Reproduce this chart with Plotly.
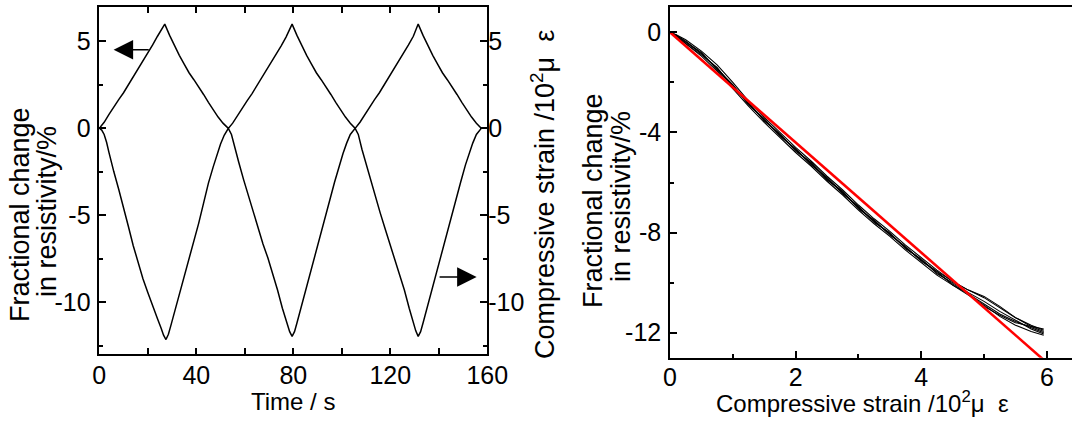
import plotly.graph_objects as go

# ---------------- data: left panel (time history) ----------------
strain_t = [0, 2, 4, 6, 8, 10, 12, 14, 16, 18, 20, 22, 24, 26, 27,
            29, 31, 33, 35, 37, 39, 41, 43, 45, 47, 49, 51, 53.2,
            55, 57, 59, 61, 63, 65, 67, 69, 71, 73, 75, 77, 78.5, 79.5,
            81.5, 83.5, 85.5, 87.5, 89.5, 91.5, 93.5, 95.5, 97.5, 99.5, 101.5, 103.5, 105.5,
            107.5, 109.5, 111.5, 113.5, 115.5, 117.5, 119.5, 121.5, 123.5, 125.5, 127.5, 129.5, 130.5, 131.5,
            133.5, 135.5, 137.5, 139.5, 141.5, 143.5, 145.5, 147.5, 149.5, 151.5, 153.5, 155.5, 157.5, 158.5]
strain_val = [0, 0.35, 0.8, 1.25, 1.65, 2.05, 2.5, 2.95, 3.4, 3.85, 4.3, 4.8, 5.3, 5.75, 6.0,
              5.35, 4.75, 4.2, 3.7, 3.2, 2.8, 2.4, 1.95, 1.5, 1.05, 0.65, 0.3, 0.0,
              0.3, 0.75, 1.2, 1.6, 2.0, 2.45, 2.9, 3.35, 3.8, 4.25, 4.75, 5.25, 5.65, 6.0,
              5.35, 4.75, 4.2, 3.7, 3.2, 2.8, 2.4, 1.95, 1.5, 1.05, 0.65, 0.3, 0.0,
              0.35, 0.8, 1.25, 1.65, 2.05, 2.5, 2.95, 3.4, 3.85, 4.3, 4.8, 5.3, 5.65, 6.0,
              5.35, 4.75, 4.2, 3.7, 3.2, 2.8, 2.4, 1.95, 1.5, 1.05, 0.65, 0.3, 0.0, 0.0]

resist_t = [0, 1, 2, 3, 4, 5, 6, 8, 10, 12, 14, 16, 18, 20, 22, 24, 25.5, 26.5, 27.5,
            28.5, 29.5, 31, 33, 35, 37, 39, 41, 43, 45, 47, 48.5, 50, 51.5, 53.2,
            54.5, 56, 57.5, 59.5, 61.5, 63.5, 65.5, 67.5, 69.5, 71.5, 73.5, 75.5, 77, 78.5, 79.5,
            80.5, 81.5, 83, 85, 87, 89, 91, 93, 95, 97, 99, 100.5, 102, 103.5, 105.5,
            106.8, 108.3, 109.8, 111.8, 113.8, 115.8, 117.8, 119.8, 121.8, 123.8, 125.8, 127.8, 129.3, 130.5, 131.5,
            132.5, 133.5, 135, 137, 139, 141, 143, 145, 147, 149, 151, 152.5, 154, 155.5, 157.5]
resist_val = [0, -0.1, -0.35, -0.8, -1.4, -2.0, -2.5, -3.5, -4.5, -5.65, -6.75, -7.75, -8.65, -9.45, -10.25, -10.95, -11.5, -11.9, -12.15,
              -11.85, -11.35, -10.6, -9.6, -8.55, -7.55, -6.5, -5.45, -4.3, -3.15, -2.2, -1.5, -0.9, -0.4, 0.0,
              -0.35, -1.2, -1.95, -2.95, -3.9, -4.85, -5.75, -6.65, -7.45, -8.35, -9.3, -10.35, -11.1, -11.7, -11.97,
              -11.7, -11.2, -10.4, -9.35, -8.3, -7.3, -6.25, -5.2, -4.15, -3.1, -2.1, -1.45, -0.85, -0.35, 0.0,
              -0.35, -1.2, -1.95, -2.95, -3.9, -4.85, -5.75, -6.65, -7.45, -8.35, -9.3, -10.35, -11.1, -11.65, -11.97,
              -11.7, -11.2, -10.4, -9.35, -8.3, -7.3, -6.25, -5.2, -4.15, -3.1, -2.1, -1.45, -0.85, -0.35, 0.0]

# ---------------- data: right panel (resistivity vs strain) ----------------
cyc_strain = [0, 0.1, 0.25, 0.5, 0.75, 1.0, 1.25, 1.5, 1.75, 2.0, 2.25, 2.5, 2.75, 3.0,
              3.25, 3.5, 3.75, 4.0, 4.25, 4.5, 4.75, 5.0, 5.25, 5.5, 5.75, 5.95]
cyc_1 = [0, -0.15, -0.40, -0.85, -1.45, -2.15, -2.85, -3.5, -4.1, -4.7, -5.25, -5.85, -6.4, -7.0,
         -7.55, -8.05, -8.6, -9.1, -9.6, -10.05, -10.45, -10.85, -11.25, -11.55, -11.8, -12.0]
cyc_2 = [0, -0.1, -0.3, -0.75, -1.3, -2.0, -2.75, -3.4, -4.0, -4.6, -5.15, -5.75, -6.3, -6.9,
         -7.45, -7.95, -8.5, -9.0, -9.5, -9.95, -10.3, -10.6, -11.0, -11.4, -11.7, -11.9]
cyc_3 = [0, -0.15, -0.45, -0.95, -1.55, -2.25, -2.95, -3.6, -4.2, -4.8, -5.35, -5.95, -6.5, -7.1,
         -7.65, -8.15, -8.7, -9.2, -9.7, -10.1, -10.5, -10.9, -11.35, -11.7, -11.95, -12.1]
cyc_4 = [0, -0.12, -0.38, -0.8, -1.5, -2.1, -2.9, -3.45, -4.15, -4.65, -5.3, -5.8, -6.45, -6.95,
         -7.6, -8.0, -8.65, -9.05, -9.65, -10.0, -10.4, -10.75, -11.15, -11.5, -11.85, -12.05]
cyc_5 = [0, -0.18, -0.42, -0.9, -1.4, -2.2, -2.8, -3.55, -4.05, -4.75, -5.2, -5.9, -6.35, -7.05,
         -7.5, -8.1, -8.55, -9.15, -9.55, -10.1, -10.45, -10.95, -11.3, -11.6, -11.75, -11.85]
cyc_6 = [0, -0.12, -0.35, -0.85, -1.45, -2.1, -2.85, -3.5, -4.1, -4.7, -5.25, -5.85, -6.4, -7.0,
         -7.55, -8.05, -8.6, -9.1, -9.55, -9.95, -10.3, -10.55, -10.95, -11.4, -11.75, -11.95]
cycles = [cyc_1, cyc_2, cyc_3, cyc_4, cyc_5, cyc_6]

fit_strain = [0, 6.2]
fit_slope = -2.2  # fractional change (%) per 10^2 microstrain

left_xticks = [0, 40, 80, 120, 160]
left_yticks = [-10, -5, 0, 5]
left_yticklabels = ["-10", "-5", "0", "5"]
right_xticks = [0, 2, 4, 6]
right_yticks = [-12, -8, -4, 0]
right_yticklabels = ["-12", "-8", "-4", "0"]

# ---------------- figure ----------------
W, H = 1072, 421
FONT = "Liberation Sans, Arial, sans-serif"
fig = go.Figure()

fig.add_trace(go.Scatter(x=strain_t, y=strain_val, mode="lines",
                         line=dict(color="black", width=1.5), xaxis="x", yaxis="y"))
fig.add_trace(go.Scatter(x=resist_t, y=resist_val, mode="lines",
                         line=dict(color="black", width=1.5), xaxis="x", yaxis="y"))
for c in cycles:
    fig.add_trace(go.Scatter(x=cyc_strain, y=c, mode="lines",
                             line=dict(color="black", width=1.1), xaxis="x2", yaxis="y3"))
fig.add_trace(go.Scatter(x=fit_strain, y=[fit_slope * s for s in fit_strain], mode="lines",
                         line=dict(color="#ff0000", width=2.6), xaxis="x2", yaxis="y3"))
fig.add_trace(go.Scatter(x=[None], y=[None], xaxis="x", yaxis="y2", showlegend=False))


def px_x(p):
    return p / W


def px_y(p):
    return 1 - p / H


tickfont = dict(family=FONT, size=25, color="black")
axis_common = dict(showgrid=False, zeroline=False, showline=True, linecolor="black", linewidth=1.5,
                   ticks="inside", ticklen=7, tickwidth=1.5, tickcolor="black", tickfont=tickfont,
                   automargin=False)


def minor(d):
    return dict(dtick=d, tick0=0, ticks="inside", ticklen=4, tickwidth=1.5, tickcolor="black", showgrid=False)


fig.update_layout(
    width=W, height=H, autosize=False,
    margin=dict(l=0, r=0, t=0, b=0, pad=0, autoexpand=False),
    paper_bgcolor="white", plot_bgcolor="white", showlegend=False,
    font=dict(family=FONT, color="black"),
    xaxis=dict(domain=[px_x(99.3), px_x(487.3)], range=[0, 160], tickvals=left_xticks,
               mirror="allticks", anchor="y", minor=minor(20), ticklabelstandoff=-2, **axis_common),
    yaxis=dict(domain=[px_y(354.3), px_y(6.7)], range=[-13, 7], tickvals=left_yticks,
               ticktext=left_yticklabels, mirror=True, anchor="x", minor=minor(2.5),
               ticklabelstandoff=2, **axis_common),
    yaxis2=dict(overlaying="y", side="right", anchor="x", range=[-13, 7], tickvals=left_yticks,
                ticktext=left_yticklabels, minor=minor(2.5), ticklabelstandoff=0,
                **{**axis_common, "showline": False}),
    xaxis2=dict(domain=[px_x(670), 1.0], range=[0, 6.40], tickvals=right_xticks,
                mirror=True, anchor="y3", minor=minor(1), ticklabelstandoff=-3, **axis_common),
    yaxis3=dict(domain=[px_y(357.7), px_y(7.3)], range=[-13, 1], tickvals=right_yticks,
                ticktext=right_yticklabels, anchor="x2", minor=minor(2), ticklabelstandoff=2,
                **axis_common),
)

title_font_v = dict(family=FONT, size=27, color="black")
title_font_h = dict(family=FONT, size=24, color="black")


def add_title(text, x, y, font, angle=0):
    fig.add_annotation(text=text, textangle=angle, xref="paper", yref="paper",
                       x=px_x(x), y=px_y(y), xanchor="center", yanchor="middle",
                       showarrow=False, font=font)


add_title("Fractional change", 20, 215, title_font_v, -90)
add_title("in resistivity/%", 47, 212, title_font_v, -90)
add_title("Compressive strain /10<sup>2</sup>μ\u00a0 ε", 543, 195, title_font_v, -90)
add_title("Fractional change", 593, 200, title_font_v, -90)
add_title("in resistivity/%", 621, 197, title_font_v, -90)
add_title("Time / s", 293, 401, title_font_h)
add_title("Compressive strain /10<sup>2</sup>μ\u00a0 ε", 862, 402, title_font_h)

# arrows indicating which axis each curve belongs to
fig.add_annotation(x=5.9, y=4.53, ax=21, ay=4.53, xref="x", yref="y", axref="x", ayref="y",
                   text="", showarrow=True, arrowhead=2, arrowsize=2.6, arrowwidth=1.5, arrowcolor="black")
fig.add_annotation(x=155.6, y=-8.55, ax=139.7, ay=-8.55, xref="x", yref="y", axref="x", ayref="y",
                   text="", showarrow=True, arrowhead=2, arrowsize=2.6, arrowwidth=1.5, arrowcolor="black")

fig.write_html("out.html", config={"displayModeBar": False},
               post_script="document.body.style.margin='0';document.body.style.overflow='hidden';")
